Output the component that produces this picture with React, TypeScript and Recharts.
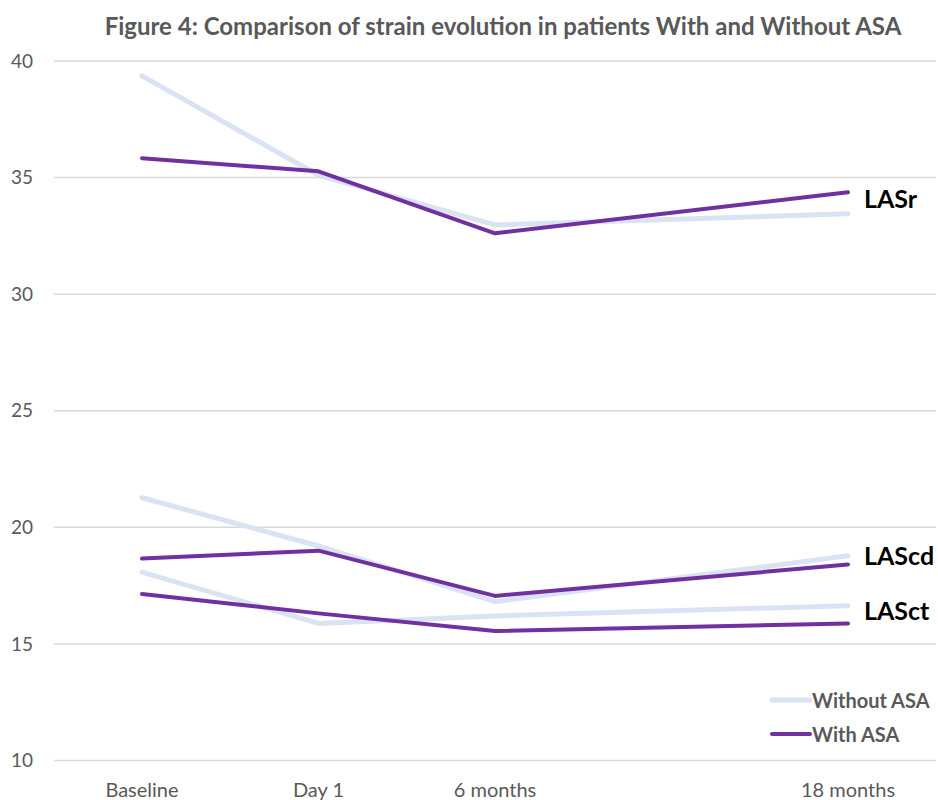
import React from 'react';
import { LineChart, Line, XAxis, YAxis, CartesianGrid, ReferenceDot, Legend } from 'recharts';

const categories = ['Baseline', 'Day 1', '6 months', '', '18 months'];
const lasrWithout = [39.36, 35.1, 32.97, null, 33.45];
const lasrWith = [35.83, 35.27, 32.61, null, 34.37];
const lascdWithout = [21.27, 19.2, 16.81, null, 18.78];
const lascdWith = [18.66, 19.0, 17.06, null, 18.41];
const lasctWithout = [18.08, 15.88, 16.2, null, 16.64];
const lasctWith = [17.14, 16.31, 15.55, null, 15.88];
const yTicks = [10, 15, 20, 25, 30, 35, 40];
const seriesNames = ['LASr', 'LAScd', 'LASct'];
const legendNames = ['Without ASA', 'With ASA'];

const LIGHT = '#dae3f3';
const PURPLE = '#7030a0';
const GREY = '#595959';
const FONT = 'Lato, "Open Sans", sans-serif';

const data = categories.map((c, i) => ({
  category: c,
  lasrWithout: lasrWithout[i],
  lasrWith: lasrWith[i],
  lascdWithout: lascdWithout[i],
  lascdWith: lascdWith[i],
  lasctWithout: lasctWithout[i],
  lasctWith: lasctWith[i],
}));

const pairs = [
  [lasrWithout, lasrWith],
  [lascdWithout, lascdWith],
  [lasctWithout, lasctWith],
];
const lastIdx = categories.length - 1;

const XTick = (props: any) => {
  const { x, y, payload } = props;
  if (!payload.value) return null;
  return (
    <text x={x} y={y} dy="0.71em" textAnchor="middle" fill={GREY} fontSize={20} fontFamily={FONT}>
      {payload.value}
    </text>
  );
};

const legendStyles = [
  { color: LIGHT, width: 5 },
  { color: PURPLE, width: 4 },
];

const LegendContent = () => (
  <div style={{ fontFamily: FONT }}>
    {legendNames.map((n, i) => (
      <div key={n} style={{ display: 'flex', alignItems: 'center', height: 34 }}>
        <svg width={42} height={10} style={{ display: 'block' }}>
          <line x1={2} y1={5} x2={40} y2={5} stroke={legendStyles[i].color} strokeWidth={legendStyles[i].width} strokeLinecap="round" />
        </svg>
        <span style={{ fontSize: 20, fontWeight: 700, color: GREY, whiteSpace: 'nowrap' }}>{n}</span>
      </div>
    ))}
  </div>
);

export default function App() {
  return (
    <div style={{ position: 'absolute', left: 0, top: 0, width: 938, height: 800, background: '#fff' }}>
      <div
        style={{
          position: 'absolute',
          left: 503,
          top: 10,
          transform: 'translateX(-50%)',
          whiteSpace: 'nowrap',
          fontFamily: FONT,
          fontWeight: 700,
          fontSize: 24,
          color: GREY,
          lineHeight: '32px',
        }}
      >
        Figure 4: Comparison of strain evolution in patients With and Without ASA
      </div>
      <LineChart width={938} height={800} data={data} margin={{ top: 61, right: 2, left: 0, bottom: 9.5 }}>
        <CartesianGrid vertical={false} stroke="#d9d9d9" strokeWidth={1.5} />
        <XAxis
          dataKey="category"
          axisLine={false}
          tickLine={false}
          tickSize={0}
          tickMargin={22}
          height={30}
          interval={0}
          padding={{ left: 88, right: 88 }}
          tick={<XTick />}
        />
        <YAxis
          domain={[10, 40]}
          ticks={yTicks}
          width={54}
          axisLine={false}
          tickLine={false}
          tickSize={0}
          tickMargin={21}
          tick={{ fill: GREY, fontSize: 19, fontFamily: FONT }}
        />
        <Legend
          layout="vertical"
          align="center"
          verticalAlign="middle"
          content={<LegendContent />}
          wrapperStyle={{ left: 770, top: 683, width: 170 }}
        />
        <Line dataKey="lasrWithout" stroke={LIGHT} strokeWidth={5} dot={false} connectNulls isAnimationActive={false} strokeLinecap="round" strokeLinejoin="round" />
        <Line dataKey="lascdWithout" stroke={LIGHT} strokeWidth={5} dot={false} connectNulls isAnimationActive={false} strokeLinecap="round" strokeLinejoin="round" />
        <Line dataKey="lasctWithout" stroke={LIGHT} strokeWidth={5} dot={false} connectNulls isAnimationActive={false} strokeLinecap="round" strokeLinejoin="round" />
        <Line dataKey="lasrWith" stroke={PURPLE} strokeWidth={4} dot={false} connectNulls isAnimationActive={false} strokeLinecap="round" strokeLinejoin="round" />
        <Line dataKey="lascdWith" stroke={PURPLE} strokeWidth={4} dot={false} connectNulls isAnimationActive={false} strokeLinecap="round" strokeLinejoin="round" />
        <Line dataKey="lasctWith" stroke={PURPLE} strokeWidth={4} dot={false} connectNulls isAnimationActive={false} strokeLinecap="round" strokeLinejoin="round" />
        {pairs.map((p, i) => (
          <ReferenceDot
            key={seriesNames[i]}
            x={categories[lastIdx]}
            y={((p[0][lastIdx] as number) + (p[1][lastIdx] as number)) / 2}
            r={1}
            fill="none"
            stroke="none"
            label={(lp: any) => {
              const vb = lp.viewBox || {};
              const cx = (vb.x ?? 0) + (vb.width ?? 0) / 2;
              const cy = (vb.y ?? 0) + (vb.height ?? 0) / 2;
              return (
                <text x={cx + 16} y={cy - 4} dy="0.36em" textAnchor="start" fill="#000" fontSize={25} fontWeight={700} fontFamily={FONT}>
                  {seriesNames[i]}
                </text>
              );
            }}
          />
        ))}
      </LineChart>
    </div>
  );
}
